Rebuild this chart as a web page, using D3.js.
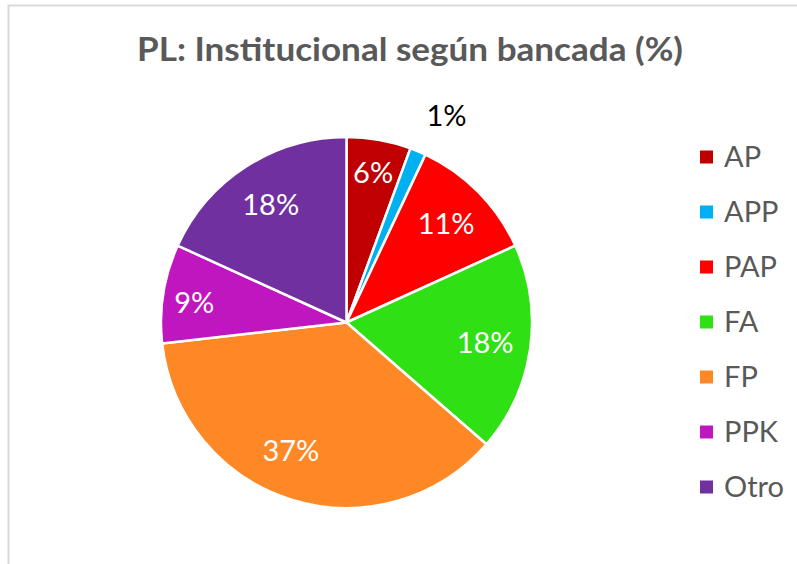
<!DOCTYPE html>
<html>
<head>
<meta charset="utf-8">
<script src="https://cdn.jsdelivr.net/npm/d3@7"></script>
<style>
  body { margin: 0; background: #fff; }
  svg { display: block; }
  text { font-family: Lato, "Open Sans", "Liberation Sans", sans-serif; }
</style>
</head>
<body>
<div id="chart"></div>
<script>
// data
var parties = ["AP", "APP", "PAP", "FA", "FP", "PPK", "Otro"];
var shares = [5.6, 1.4, 11.2, 18.2, 36.8, 8.6, 18.2];
var colors = ["#C00000", "#00B0F0", "#FF0000", "#2FE014", "#FF8826", "#C016C0", "#7030A0"];
var title = "PL: Institucional según bancada (%)";

var width = 797, height = 564;
var cx = 346.5, cy = 322.5, radius = 185.5;

// small label nudges (Excel "best fit" placement)
var labelNudge = {APP: [12, 4], FP: [-14, -5], PPK: [-2, 4]};

var svg = d3.select("#chart").append("svg")
  .attr("width", width).attr("height", height);

// chart area border (only top & left visible in the crop)
svg.append("path")
  .attr("d", "M8.5,564 V5.5 H797")
  .attr("fill", "none")
  .attr("stroke", "#d9d9d9")
  .attr("stroke-width", 2);

svg.append("text")
  .attr("x", 410).attr("y", 61)
  .attr("text-anchor", "middle")
  .attr("font-size", 33).attr("font-weight", "bold")
  .attr("fill", "#595959")
  .attr("textLength", 546).attr("lengthAdjust", "spacingAndGlyphs")
  .text(title);

var data = parties.map(function(p, i){ return {name: p, value: shares[i], color: colors[i]}; });

var pie = d3.pie().value(function(d){ return d.value; }).sort(null);
var arc = d3.arc().innerRadius(0).outerRadius(radius);
var arcs = pie(data);

var g = svg.append("g").attr("transform", "translate(" + cx + "," + cy + ")");

g.selectAll(".slice")
  .data(arcs)
  .enter().append("path")
    .attr("class", "slice")
    .attr("d", arc)
    .attr("fill", function(d){ return d.data.color; })
    .attr("stroke", "#fff")
    .attr("stroke-width", 2.5)
    .attr("stroke-linejoin", "round");

// labels: small slices pushed out, tiny one outside the pie
function labelRadius(v){
  if (v < 3) return radius * 1.23;
  if (v < 10) return radius * 0.82;
  return radius * 0.755;
}
function nudge(d, k){ var n = labelNudge[d.data.name]; return n ? n[k] : 0; }

g.selectAll(".lbl")
  .data(arcs)
  .enter().append("text")
    .attr("class", "lbl")
    .attr("x", function(d){ var a = (d.startAngle + d.endAngle) / 2; return Math.sin(a) * labelRadius(d.data.value) + nudge(d, 0); })
    .attr("y", function(d){ var a = (d.startAngle + d.endAngle) / 2; return -Math.cos(a) * labelRadius(d.data.value) + nudge(d, 1); })
    .attr("dy", "0.35em")
    .attr("text-anchor", "middle")
    .attr("font-size", 29)
    .attr("fill", function(d){ return d.data.value < 3 ? "#000" : "#fff"; })
    .text(function(d){ return Math.round(d.data.value) + "%"; });

// legend
var legend = svg.append("g").attr("transform", "translate(700,157)");
var item = legend.selectAll(".item")
  .data(data)
  .enter().append("g")
    .attr("class", "item")
    .attr("transform", function(d, i){ return "translate(0," + (i * 55) + ")"; });

item.append("rect")
  .attr("x", 0).attr("y", -6.5)
  .attr("width", 13).attr("height", 13)
  .attr("fill", function(d){ return d.color; });

item.append("text")
  .attr("x", 24).attr("y", 0)
  .attr("dy", "0.35em")
  .attr("font-size", 29)
  .attr("fill", "#595959")
  .text(function(d){ return d.name; });
</script>
</body>
</html>
